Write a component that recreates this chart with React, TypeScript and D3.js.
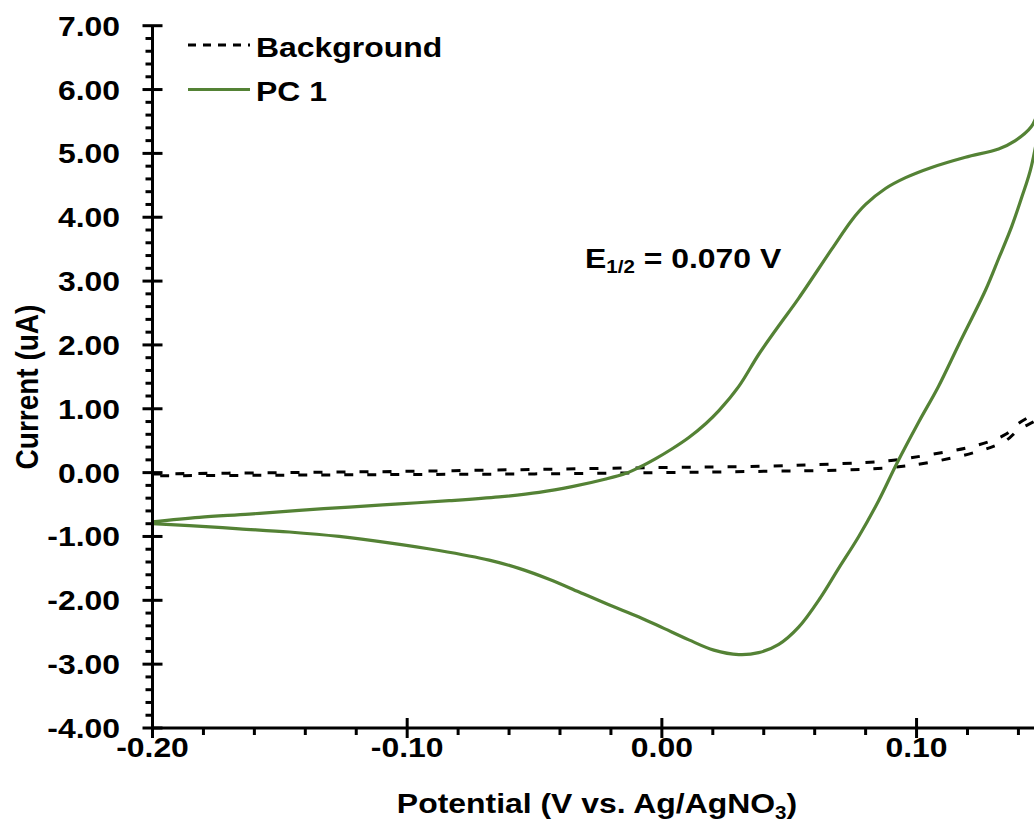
import React from "react";
import * as d3 from "d3";

// ---- Data ----
// PC 1: forward (anodic) scan, left to right
const pcForwardV = [-0.2, -0.1816, -0.162, -0.1424, -0.1227, -0.1031, -0.0835, -0.0639, -0.0482, -0.0353, -0.022, -0.0141, -0.009, -0.0024, 0.0039, 0.0106, 0.0173, 0.0224, 0.0302, 0.038, 0.0459, 0.0537, 0.0667, 0.0745, 0.08, 0.0878, 0.0957, 0.1059, 0.1192, 0.1322, 0.1388, 0.1451, 0.149];
const pcForwardI = [-0.77, -0.7, -0.65, -0.59, -0.54, -0.49, -0.44, -0.38, -0.31, -0.22, -0.1, -0.01, 0.08, 0.22, 0.37, 0.55, 0.77, 0.97, 1.35, 1.85, 2.3, 2.73, 3.5, 3.95, 4.2, 4.45, 4.62, 4.78, 4.94, 5.07, 5.2, 5.42, 5.75];
// PC 1: reverse (cathodic) scan, right to left
const pcReverseV = [0.1451, 0.1412, 0.1373, 0.1322, 0.1271, 0.1165, 0.1086, 0.1008, 0.0922, 0.0851, 0.0773, 0.0694, 0.0624, 0.0537, 0.0459, 0.038, 0.0302, 0.0204, 0.0106, 0.0008, -0.009, -0.0208, -0.0325, -0.0443, -0.0561, -0.0678, -0.0875, -0.1071, -0.1267, -0.1463, -0.1659, -0.1855, -0.2];
const pcReverseI = [4.8, 4.3, 3.85, 3.35, 2.86, 2.0, 1.35, 0.79, 0.14, -0.44, -1.0, -1.5, -1.95, -2.42, -2.69, -2.82, -2.85, -2.78, -2.62, -2.44, -2.26, -2.07, -1.87, -1.67, -1.5, -1.37, -1.22, -1.1, -1.0, -0.93, -0.88, -0.83, -0.8];

// Background: forward and reverse scans
const bgForwardV = [-0.2, -0.15, -0.1, -0.05, 0.0, 0.04, 0.07, 0.09, 0.105, 0.124, 0.135, 0.14, 0.1465, 0.149];
const bgForwardI = [-0.02, 0.0, 0.02, 0.05, 0.08, 0.1, 0.14, 0.19, 0.28, 0.43, 0.6, 0.77, 0.93, 1.02];
const bgReverseV = [0.149, 0.1465, 0.14, 0.135, 0.124, 0.105, 0.09, 0.07, 0.04, 0.0, -0.05, -0.1, -0.15, -0.2];
const bgReverseI = [0.9, 0.81, 0.67, 0.5, 0.33, 0.16, 0.08, 0.04, 0.02, 0.0, -0.02, -0.03, -0.04, -0.05];

const yMajorTicks = [-4, -3, -2, -1, 0, 1, 2, 3, 4, 5, 6, 7];
const xMajorTicks = [-0.2, -0.1, 0.0, 0.1];

const seriesNames = ["Background", "PC 1"];
const xTitle = "Potential (V vs. Ag/AgNO";
const yTitle = "Current (uA)";
const annotationText = ["E", "1/2", " = 0.070 V"];

const W = 1034;
const H = 822;
const GREEN = "#548235";
const FONT = "'Liberation Sans', Arial, Helvetica, sans-serif";
const SX = 1.14; // horizontal text stretch seen in the reference

const x = d3.scaleLinear().domain([-0.2, 0.15]).range([152.5, 1043.9]);
const y = d3.scaleLinear().domain([-4, 7]).range([728, 25.7]);

const fmt = (v: number) => d3.format(".2f")(v).replace("\u2212", "-");

function zip(vs: number[], is: number[]): [number, number][] {
  return vs.map((v, i) => [v, is[i]]);
}

export default function App() {
  const lineGen = d3
    .line<[number, number]>()
    .x((d) => x(d[0]))
    .y((d) => y(d[1]))
    .curve(d3.curveCatmullRom.alpha(0.5));

  const pcPath = lineGen([...zip(pcForwardV, pcForwardI), ...zip(pcReverseV, pcReverseI)]) || "";
  const bgPath = lineGen([...zip(bgForwardV, bgForwardI), ...zip(bgReverseV, bgReverseI)]) || "";

  const yMinor = d3.range(-4, 7.0001, 0.2).map((v) => +v.toFixed(2)).filter((v) => Math.abs(v - Math.round(v)) > 1e-6);
  const xMinor = d3.range(-0.2, 0.1501, 0.02).map((v) => +v.toFixed(3)).filter((v) => !xMajorTicks.some((t) => Math.abs(t - v) < 1e-6));

  const x0 = x(-0.2);
  const yAxisY = y(-4);

  return (
    <svg
      width={W}
      height={H}
      style={{ position: "absolute", left: 0, top: 0, background: "#fff" }}
      fontFamily={FONT}
      fontWeight="bold"
    >
      <defs>
        <clipPath id="plotClip">
          <rect x={x0} y={0} width={W - x0} height={H} />
        </clipPath>
      </defs>
      <rect x={0} y={0} width={W} height={H} fill="#fff" />

      {/* data */}
      <g clipPath="url(#plotClip)">
        <path d={bgPath} fill="none" stroke="#000" strokeWidth={3} strokeDasharray="9 14" />
        <path d={pcPath} fill="none" stroke={GREEN} strokeWidth={3.2} strokeLinejoin="round" />
      </g>

      {/* y axis */}
      <line x1={x0} x2={x0} y1={y(7)} y2={yAxisY} stroke="#000" strokeWidth={3} />
      {yMinor.map((v) => (
        <line key={"ym" + v} x1={x0 - 7} x2={x0} y1={y(v)} y2={y(v)} stroke="#000" strokeWidth={3} />
      ))}
      {yMajorTicks.map((v) => (
        <g key={"yM" + v}>
          <line x1={x0 - 10} x2={x0 + 10} y1={y(v)} y2={y(v)} stroke="#000" strokeWidth={3} />
          <g transform={`translate(120,${y(v) + 10}) scale(${SX},1)`}>
            <text textAnchor="end" fontSize={28} fill="#000">
              {fmt(v)}
            </text>
          </g>
        </g>
      ))}

      {/* x axis */}
      <line x1={x0} x2={W} y1={yAxisY} y2={yAxisY} stroke="#000" strokeWidth={3} />
      {xMinor.map((v) => (
        <line key={"xm" + v} x1={x(v)} x2={x(v)} y1={yAxisY} y2={yAxisY + 7} stroke="#000" strokeWidth={3} />
      ))}
      {xMajorTicks.map((v) => (
        <g key={"xM" + v}>
          <line x1={x(v)} x2={x(v)} y1={yAxisY - 10} y2={yAxisY + 10} stroke="#000" strokeWidth={3} />
          <g transform={`translate(${x(v)},757) scale(${SX},1)`}>
            <text textAnchor="middle" fontSize={28} fill="#000">
              {fmt(v)}
            </text>
          </g>
        </g>
      ))}

      {/* axis titles */}
      <g transform={`translate(597,813) scale(${SX},1)`}>
        <text textAnchor="middle" fontSize={28} fill="#000">
          {xTitle}
          <tspan fontSize={18} dy={6}>3</tspan>
          <tspan dy={-6}>)</tspan>
        </text>
      </g>
      <g transform={`translate(38,387) scale(${SX},1) rotate(-90)`}>
        <text textAnchor="middle" fontSize={28} fill="#000">
          {yTitle}
        </text>
      </g>

      {/* legend */}
      <line x1={188} x2={250} y1={45} y2={45} stroke="#000" strokeWidth={3} strokeDasharray="8 7" />
      <g transform={`translate(256,57) scale(${SX},1)`}>
        <text fontSize={28} fill="#000">{seriesNames[0]}</text>
      </g>
      <line x1={188} x2={250} y1={89.5} y2={89.5} stroke={GREEN} strokeWidth={3} />
      <g transform={`translate(256,101) scale(${SX},1)`}>
        <text fontSize={28} fill="#000">{seriesNames[1]}</text>
      </g>

      {/* annotation */}
      <g transform={`translate(585,268) scale(${SX},1)`}>
        <text fontSize={28} fill="#000">
          {annotationText[0]}
          <tspan fontSize={18} dy={5}>{annotationText[1]}</tspan>
          <tspan dy={-5}>{annotationText[2]}</tspan>
        </text>
      </g>
    </svg>
  );
}
